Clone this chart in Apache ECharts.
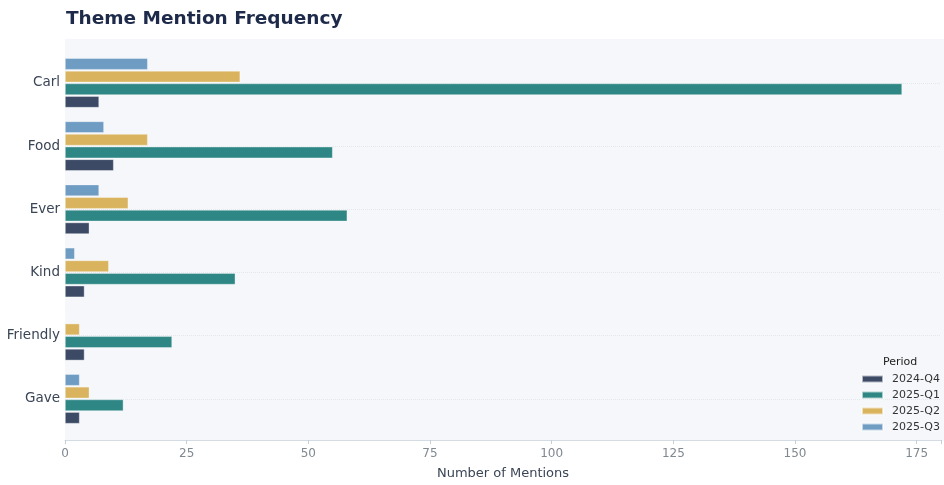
<!DOCTYPE html>
<html>
<head>
<meta charset="utf-8">
<script src="https://cdn.jsdelivr.net/npm/echarts@6/dist/echarts.min.js"></script>
<style>
	html, body { margin: 0; padding: 0; background: #ffffff; }
	#chart { width: 944px; height: 485px; }
</style>
</head>
<body>
<div id="chart"></div>
<script>
// categories listed bottom to top (first one sits next to the x axis)
var categories = ["Gave", "Friendly", "Kind", "Ever", "Food", "Carl"];
var periods = ["2024-Q4", "2025-Q1", "2025-Q2", "2025-Q3"];

var q4_2024 = [3, 4, 4, 5, 10, 7];
var q1_2025 = [12, 22, 35, 58, 55, 172];
var q2_2025 = [5, 3, 9, 13, 17, 36];
var q3_2025 = [3, 0, 2, 7, 8, 17];

var xTicks = [0, 25, 50, 75, 100, 125, 150, 175];

var colors = ["#3d4a66", "#2e8785", "#d9b35e", "#6f9cc3"];

var chart = echarts.init(document.getElementById("chart"));

var seriesValues = [q4_2024, q1_2025, q2_2025, q3_2025];
var series = periods.map(function(name, i) {
	return {
		name: name,
		type: "bar",
		data: seriesValues[i],
		barWidth: 11.5,
		barGap: "10%",
		itemStyle: {
			color: colors[i],
			borderColor: "rgba(255,255,255,0.6)",
			borderWidth: 0.6
		}
	};
});
// first series is drawn at the top of a band, reference has 2024-Q4 at the bottom
series.reverse();

var option = {
	backgroundColor: "#ffffff",
	animation: false,
	textStyle: { fontFamily: "DejaVu Sans" },
	title: {
		text: "Theme Mention Frequency",
		left: 61,
		top: 5,
		textStyle: {
			fontFamily: "DejaVu Sans",
			fontWeight: "bold",
			fontSize: 18.5,
			color: "#1e2a4a"
		}
	},
	graphic: [{
		type: "rect",
		z: -10,
		silent: true,
		shape: { x: 65, y: 39, width: 879, height: 402 },
		style: { fill: "#f5f7fa" }
	}, {
		type: "text",
		left: 883,
		top: 357,
		style: {
			text: "Period",
			fontFamily: "DejaVu Sans",
			fontSize: 11,
			fill: "#222222"
		}
	}],
	legend: {
		data: periods,
		orient: "vertical",
		left: 861,
		top: 373,
		icon: "rect",
		itemWidth: 21,
		itemHeight: 7,
		itemGap: 4,
		padding: 0,
		textStyle: {
			fontFamily: "DejaVu Sans",
			fontSize: 11,
			lineHeight: 12,
			color: "#333333",
			padding: [0, 0, 0, 4]
		}
	},
	grid: {
		left: 65,
		right: 0,
		top: 51.3,
		bottom: 53.3,
		containLabel: false
	},
	xAxis: {
		type: "value",
		min: 0,
		max: 180,
		interval: 25,
		offset: 9.5,
		name: "Number of Mentions",
		nameLocation: "middle",
		nameGap: 27,
		nameTextStyle: {
			fontFamily: "DejaVu Sans",
			fontSize: 13,
			color: "#3a4556"
		},
		axisLine: { show: true, lineStyle: { color: "#d5dbe3", width: 1 } },
		axisTick: { show: true, length: 4, lineStyle: { color: "#c8ced6" } },
		axisLabel: {
			fontFamily: "DejaVu Sans",
			fontSize: 12,
			color: "#808890",
			margin: 8,
			formatter: function(v) {
				return xTicks.indexOf(v) >= 0 ? String(v) : "";
			}
		},
		splitLine: { show: false }
	},
	yAxis: {
		type: "category",
		data: categories,
		axisLine: { show: false },
		axisTick: { show: false },
		axisLabel: {
			fontFamily: "DejaVu Sans",
			fontSize: 13.5,
			color: "#3a4556",
			margin: 5
		},
		splitLine: {
			show: true,
			alignWithLabel: true,
			lineStyle: { color: "#e4e8ee", type: "dotted", width: 1 }
		}
	},
	series: series
};

chart.setOption(option);
</script>
</body>
</html>
